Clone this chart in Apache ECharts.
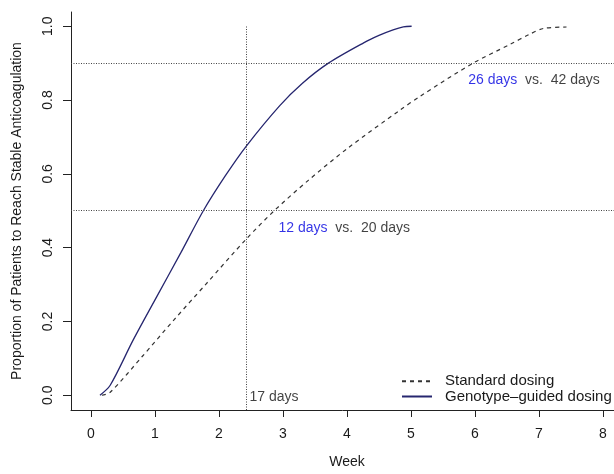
<!DOCTYPE html>
<html>
<head>
<meta charset="utf-8">
<script src="https://cdn.jsdelivr.net/npm/echarts@6/dist/echarts.min.js"></script>
<style>html,body{margin:0;padding:0;background:#fff;}#c{width:614px;height:474px;}</style>
</head>
<body>
<div id="c"></div>
<script>
// ---- data (weeks, proportion) ----
var standardWeeks = [0.17, 0.30, 0.80, 1.30, 1.80, 2.43, 2.875, 3.40, 4.00, 4.83, 5.14, 5.97, 6.55, 6.85, 7.07, 7.43];
var standardProp  = [0.000, 0.008, 0.105, 0.205, 0.302, 0.424, 0.502, 0.583, 0.668, 0.773, 0.810, 0.900, 0.951, 0.978, 0.994, 0.998];
var genotypeWeeks = [0.14, 0.30, 0.66, 1.03, 1.40, 1.755, 2.10, 2.43, 2.95, 3.30, 3.71, 4.26, 4.50, 4.72, 4.88, 5.01];
var genotypeProp  = [0.000, 0.027, 0.150, 0.268, 0.385, 0.500, 0.595, 0.676, 0.785, 0.845, 0.900, 0.955, 0.975, 0.990, 0.998, 1.000];
var xTicks = [0, 1, 2, 3, 4, 5, 6, 7, 8];
var yTicks = [0, 0.2, 0.4, 0.6, 0.8, 1.0];
var refLevels = [0.5, 0.9];
var dayMarkWeek = 17 / 7;
var dayMarkLabel = '17 days';
var annoX = [2.93, 5.895];
var annoY = [0.4535, 0.855];
var annoBlue = ['12 days', '26 days'];
var annoBlack = ['vs.  20 days', 'vs.  42 days'];
var seriesNames = ['Standard dosing', 'Genotype\u2013guided dosing'];

var FONT = '"Liberation Sans", Arial, Helvetica, sans-serif';
function pairs(xs, ys) { return xs.map(function (x, i) { return [x, ys[i]]; }); }

var chart = echarts.init(document.getElementById('c'), null, { renderer: 'canvas' });
chart.setOption({
  animation: false,
  backgroundColor: '#ffffff',
  textStyle: { fontFamily: FONT },
  grid: { left: 71, right: 0, top: 12, bottom: 57, containLabel: false },
  xAxis: {
    type: 'value', min: -0.3125, max: 8.172,
    name: 'Week', nameLocation: 'middle', nameGap: 45,
    nameTextStyle: { fontFamily: FONT, fontSize: 14, color: '#1a1a1a', padding: [0, 0, 0, 9] },
    axisLine: { show: true, onZero: false, lineStyle: { color: '#222', width: 1 } },
    axisTick: { show: true, length: 7, customValues: xTicks, lineStyle: { color: '#222' } },
    axisLabel: { customValues: xTicks, margin: 17, fontFamily: FONT, fontSize: 14, color: '#1a1a1a' },
    splitLine: { show: false }
  },
  yAxis: {
    type: 'value', min: -0.04, max: 1.0386,
    name: 'Proportion of Patients to Reach Stable Anticoagulation',
    nameLocation: 'middle', nameGap: 47,
    nameTextStyle: { fontFamily: FONT, fontSize: 14, color: '#1a1a1a' },
    axisLine: { show: true, onZero: false, lineStyle: { color: '#222', width: 1 } },
    axisTick: { show: true, length: 8, customValues: yTicks, lineStyle: { color: '#222' } },
    axisLabel: { customValues: yTicks, rotate: 90, margin: 16, fontFamily: FONT, fontSize: 14, color: '#1a1a1a',
      formatter: function (v) { return v.toFixed(1); } },
    splitLine: { show: false }
  },
  legend: {
    data: seriesNames, orient: 'vertical', left: 401, top: 373.7, padding: 0,
    itemWidth: 30, itemHeight: 14, itemGap: 0.3,
    itemStyle: { opacity: 0 },
    textStyle: { fontFamily: FONT, fontSize: 15, color: '#1a1a1a', lineHeight: 14, padding: [0, 0, 0, 8] }
  },
  series: [
    {
      name: seriesNames[0], type: 'line', data: pairs(standardWeeks, standardProp),
      symbol: 'none', smooth: 0.3,
      lineStyle: { color: '#333', width: 1.2, type: [4, 4] }, itemStyle: { color: '#333' },
      markLine: {
        silent: true, symbol: 'none', label: { show: false },
        lineStyle: { color: '#444', width: 1, type: [1, 1.5] },
        data: refLevels.map(function (v) { return { yAxis: v }; }).concat([
          [{ coord: [dayMarkWeek, -0.04] }, { coord: [dayMarkWeek, 1.0] }]
        ])
      }
    },
    {
      name: seriesNames[1], type: 'line', data: pairs(genotypeWeeks, genotypeProp),
      symbol: 'none', smooth: 0.3,
      lineStyle: { color: '#26266f', width: 1.3, type: 'solid' }, itemStyle: { color: '#26266f' }
    },
    {
      name: 'annotations', type: 'scatter', silent: true, symbolSize: 0.01,
      itemStyle: { color: 'rgba(0,0,0,0)' },
      data: annoX.map(function (x, i) {
        return { value: [x, annoY[i]], label: { formatter: '{b|' + annoBlue[i] + '}{k|  ' + annoBlack[i] + '}' } };
      }).concat([{ value: [dayMarkWeek, -0.005], label: { formatter: '{k|' + dayMarkLabel + '}', distance: 3 } }]),
      label: {
        show: true, position: 'right', distance: 0,
        rich: {
          b: { fontFamily: FONT, fontSize: 14, color: '#0000e0' },
          k: { fontFamily: FONT, fontSize: 14, color: '#111' }
        }
      }
    }
  ]
});
</script>
</body>
</html>
